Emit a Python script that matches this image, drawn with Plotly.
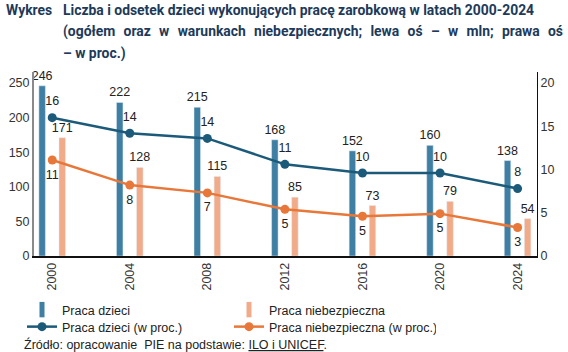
import plotly.graph_objects as go

years = ["2000", "2004", "2008", "2012", "2016", "2020", "2024"]
child_labour_mln = [246, 222, 215, 168, 152, 160, 138]
hazardous_mln = [171, 128, 115, 85, 73, 79, 54]
child_labour_pct = [16.0, 14.2, 13.6, 10.6, 9.6, 9.6, 7.8]
hazardous_pct = [11.1, 8.2, 7.3, 5.4, 4.6, 4.9, 3.3]

left_ticks = [0, 50, 100, 150, 200, 250]
right_ticks = [0, 5, 10, 15, 20]

BAR_BLUE = "#3f7fa3"
BAR_ORANGE = "#f1ab88"
LINE_BLUE = "#1c5a7a"
LINE_ORANGE = "#e8783a"
TXT = "#222222"
TITLE = "#1d3a5a"
FONT = "Liberation Sans, Arial, sans-serif"

W, H = 568, 352
L, R, T, B = 34, 31, 72, 96
PW, PH = W - L - R, H - T - B


def px(x):
    return (x - L) / PW


def py(y):
    return (H - B - y) / PH


fig = go.Figure()

for vals, col, off in [(child_labour_mln, BAR_BLUE, -0.172), (hazardous_mln, BAR_ORANGE, 0.087)]:
    fig.add_trace(go.Bar(
        x=years, y=vals, marker_color=col, width=0.084, offset=off,
        texttemplate="%{y:.0f}", textposition="outside", cliponaxis=False,
        constraintext="none", textfont=dict(size=12.5, color=TXT),
        showlegend=False, yaxis="y"))

# legend proxies for bars
fig.add_trace(go.Scatter(x=[None], y=[None], mode="markers", name="Praca dzieci", legend="legend",
                         marker=dict(symbol="line-ns", size=11, line=dict(width=5, color=BAR_BLUE))))
fig.add_trace(go.Scatter(x=[None], y=[None], mode="markers", name="Praca niebezpieczna", legend="legend",
                         marker=dict(symbol="line-ns", size=11, line=dict(width=5, color=BAR_ORANGE))))

fig.add_trace(go.Scatter(
    x=years, y=child_labour_pct, mode="lines+markers", name="Praca dzieci (w proc.)",
    line=dict(color=LINE_BLUE, width=2.5), marker=dict(size=9, color=LINE_BLUE),
    yaxis="y2", cliponaxis=False, legend="legend2"))
fig.add_trace(go.Scatter(
    x=years, y=hazardous_pct, mode="lines+markers", name="Praca niebezpieczna (w proc.)",
    line=dict(color=LINE_ORANGE, width=2.5), marker=dict(size=9, color=LINE_ORANGE),
    yaxis="y2", cliponaxis=False, legend="legend2"))

for vals, pos in [(child_labour_pct, "top center"), (hazardous_pct, "bottom center")]:
    fig.add_trace(go.Scatter(
        x=years, y=vals, mode="markers+text", texttemplate="%{y:.0f}",
        marker=dict(size=13, color="rgba(0,0,0,0)"),
        textposition=pos, textfont=dict(size=12.5, color=TXT),
        showlegend=False, yaxis="y2", cliponaxis=False, hoverinfo="skip"))

ymax = 266
legend_common = dict(orientation="h", xanchor="left", yanchor="middle", entrywidth=162,
                     font=dict(size=12.5, color=TXT), traceorder="normal", itemwidth=30,
                     bgcolor="rgba(0,0,0,0)")
fig.update_layout(
    width=W, height=H,
    margin=dict(l=L, r=R, t=T, b=B, pad=0, autoexpand=False),
    paper_bgcolor="white", plot_bgcolor="white",
    font=dict(family=FONT, size=12.5, color=TXT),
    barmode="overlay",
    xaxis=dict(type="category", range=[-0.235, 6.25], tickangle=-90,
               showline=True, linecolor="#111111", linewidth=1.5,
               showgrid=False, ticks="", tickfont=dict(size=12.5, color="#333333")),
    yaxis=dict(range=[0, ymax], tickvals=left_ticks, showgrid=False, zeroline=False,
               showline=True, linecolor="#8a8a8a", linewidth=2, ticks="",
               tickfont=dict(size=12.5, color="#333333")),
    yaxis2=dict(range=[0, ymax / 12.5], tickvals=right_ticks, overlaying="y", side="right",
                showgrid=False, zeroline=False, showline=True, linecolor="#111111",
                linewidth=1, ticks="", tickfont=dict(size=12.5, color="#333333")),
    legend=dict(x=px(22), y=py(310), **legend_common),
    legend2=dict(x=px(22), y=py(327), **legend_common),
    showlegend=True,
)

title_font = dict(family="Roboto, Liberation Sans, sans-serif", size=13.9, color=TITLE, weight="bold")
sp = "\u00a0\u200a "
title_lines = [
    ("Wykres", 4, 10),
    ("Liczba i odsetek dzieci wykonujących pracę zarobkową w latach 2000-2024", 61, 10),
    (sp.join("(ogółem oraz w warunkach niebezpiecznych; lewa oś – w mln; prawa oś".split(" ")), 61, 32),
    ("– w proc.)", 61, 53),
]
for text, x0, y0 in title_lines:
    fig.add_annotation(text=text, x=px(x0), y=py(y0), xref="paper", yref="paper",
                       xanchor="left", yanchor="middle", showarrow=False, font=title_font)

fig.add_annotation(
    text="Źródło: opracowanie\u00a0 PIE na podstawie: "
         "<span style='text-decoration:underline;text-decoration-color:#2f6f95'>ILO i UNICEF</span>.",
    x=px(22), y=py(344), xref="paper", yref="paper", xanchor="left", yanchor="middle",
    showarrow=False, font=dict(size=12.5, color=TXT))

fig.write_html("out.html")
